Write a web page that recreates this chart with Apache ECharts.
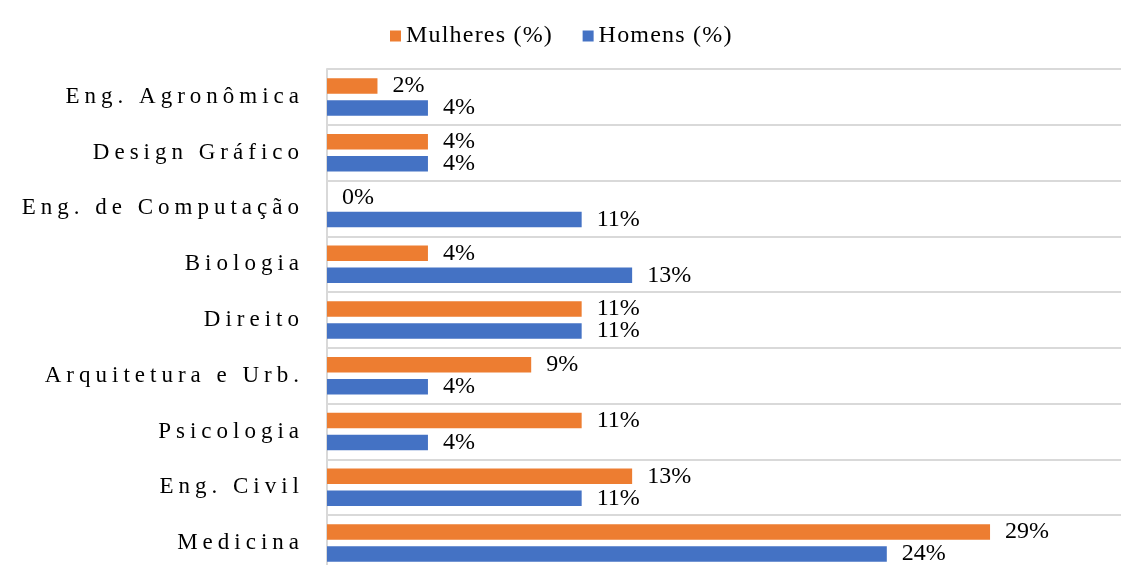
<!DOCTYPE html>
<html>
<head>
<meta charset="utf-8">
<script src="https://cdn.jsdelivr.net/npm/echarts@6/dist/echarts.min.js"></script>
<style>
  html, body { margin: 0; padding: 0; background: #fff; }
  #main { width: 1121px; height: 565px; }
</style>
</head>
<body>
<div id="main"></div>
<script>
var cursos = ['Eng. Agronômica', 'Design Gráfico', 'Eng. de Computação', 'Biologia', 'Direito',
    'Arquitetura e Urb.', 'Psicologia', 'Eng. Civil', 'Medicina'];
var mulheres = [2.2, 4.4, 0, 4.4, 11.1, 8.9, 11.1, 13.3, 28.9];
var homens = [4.4, 4.4, 11.1, 13.3, 11.1, 4.4, 4.4, 11.1, 24.4];
var legendas = ['Mulheres (%)', 'Homens (%)'];

var serif = 'Liberation Serif, serif';

// the original uses tracked (letter-spaced) text for the category names and the legend,
// so those strings are laid out glyph by glyph with extra spacing
var proto = CanvasRenderingContext2D.prototype;
var origFill = proto.fillText;
proto.fillText = function (text, x, y) {
    var sp = 0;
    if (cursos.indexOf(text) >= 0) sp = 5;
    else if (legendas.indexOf(text) >= 0) sp = 1.2;
    if (!sp) return origFill.apply(this, arguments);
    var chars = Array.from(text);
    var widths = [];
    var total = sp * (chars.length - 1);
    for (var i = 0; i < chars.length; i++) {
        widths[i] = this.measureText(chars[i]).width;
        total += widths[i];
    }
    var align = this.textAlign;
    var cx = x;
    if (align === 'right' || align === 'end') cx = x - total;
    else if (align === 'center') cx = x - total / 2;
    this.textAlign = 'left';
    for (var j = 0; j < chars.length; j++) {
        origFill.call(this, chars[j], cx, y);
        cx += widths[j] + sp;
    }
    this.textAlign = align;
};

var myChart = echarts.init(document.getElementById('main'));

function pct(p) {
    return Math.round(p.value) + '%';
}

var option = {
    animation: false,
    legend: {
        top: 19,
        left: 385,
        itemWidth: 11,
        itemHeight: 11,
        itemGap: 44,
        icon: 'rect',
        textStyle: {fontFamily: serif, fontSize: 24, color: '#000'},
        data: legendas
    },
    grid: {left: 327, top: 69, width: 803, height: 502, outerBoundsMode: 'none'},
    xAxis: {
        type: 'value',
        min: 0,
        max: 35,
        show: false
    },
    yAxis: {
        type: 'category',
        inverse: true,
        data: cursos,
        axisTick: {show: false},
        axisLine: {show: true, lineStyle: {color: '#d9d9d9', width: 2}},
        splitLine: {show: true, lineStyle: {color: '#d9d9d9', width: 2}},
        axisLabel: {fontFamily: serif, fontSize: 23, color: '#000', margin: 28}
    },
    series: [
        {
            name: legendas[0],
            type: 'bar',
            data: mulheres,
            barWidth: 15.5,
            barGap: '42%',
            itemStyle: {color: '#ED7D31'},
            label: {show: true, position: 'right', distance: 15, formatter: pct,
                fontFamily: serif, fontSize: 24, color: '#000'}
        },
        {
            name: legendas[1],
            type: 'bar',
            data: homens,
            barWidth: 15.5,
            barGap: '42%',
            itemStyle: {color: '#4472C4'},
            label: {show: true, position: 'right', distance: 15, formatter: pct,
                fontFamily: serif, fontSize: 24, color: '#000'}
        }
    ]
};

myChart.setOption(option);
</script>
</body>
</html>
